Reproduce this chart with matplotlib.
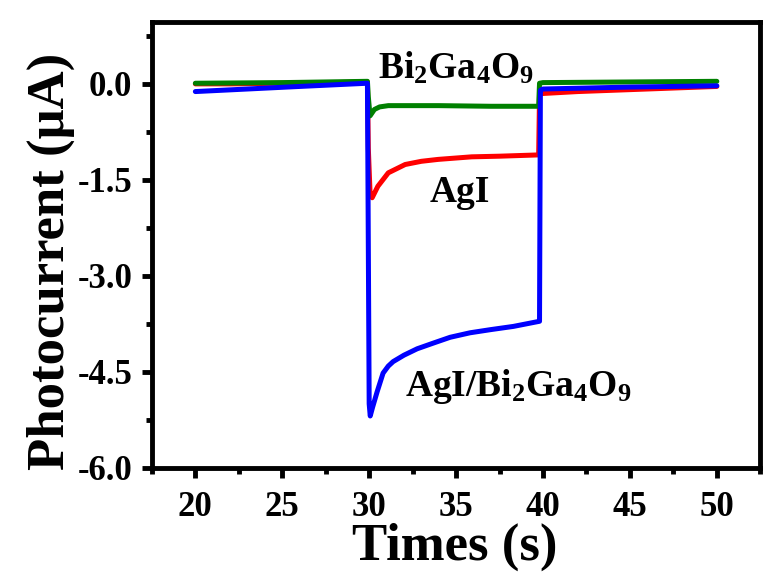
import matplotlib
matplotlib.use("Agg")
import matplotlib.pyplot as plt
from matplotlib.ticker import MultipleLocator

# ---- data (time in s, photocurrent in uA) ----
t_agi = [20, 22, 25, 28, 29.9, 29.95, 30.05, 30.17, 30.5, 31.1, 32.07, 33.0, 33.97,
         35.9, 37.5, 39.75, 39.8, 40.0, 42, 45, 48, 50]
i_agi = [0.0, 0.0, 0.01, 0.02, 0.03, -1.0, -1.7, -1.78, -1.60, -1.39, -1.26, -1.21, -1.18,
         -1.14, -1.13, -1.11, -0.16, -0.15, -0.12, -0.09, -0.06, -0.04]

t_bgo = [20, 25, 29.9, 29.95, 30.05, 30.3, 30.6, 31.1, 32.2, 34, 37, 39.75, 39.8,
         40.0, 45, 50]
i_bgo = [0.01, 0.02, 0.04, -0.2, -0.50, -0.40, -0.36, -0.34, -0.34, -0.34, -0.35, -0.35,
         0.01, 0.02, 0.03, 0.04]

t_comp = [20, 23, 26, 29.9, 29.95, 30.0, 30.06, 30.2, 30.46, 30.8, 31.1, 31.38, 32.0,
          32.76, 33.7, 34.66, 35.8, 37.0, 38.3, 39.8, 39.85, 40.0, 45, 50]
i_comp = [-0.12, -0.08, -0.04, 0.01, -2.5, -5.0, -5.19, -5.05, -4.81, -4.52, -4.41, -4.34,
          -4.24, -4.14, -4.05, -3.96, -3.89, -3.84, -3.79, -3.71, -0.1, -0.08, -0.05, -0.03]

plt.rcParams["font.family"] = ["Liberation Serif", "DejaVu Serif"]
plt.rcParams["font.weight"] = "bold"
plt.rcParams["mathtext.fontset"] = "custom"
plt.rcParams["mathtext.rm"] = "Liberation Serif:bold"
plt.rcParams["mathtext.it"] = "Liberation Serif:bold"
plt.rcParams["mathtext.bf"] = "Liberation Serif:bold"

fig = plt.figure(figsize=(7.75, 5.74), dpi=100)
ax = fig.add_axes([0.196, 0.185, 0.785, 0.777])

lw = 3.6
for t, v, c in [(t_agi, i_agi, "#ff0000"), (t_bgo, i_bgo, "#008000"), (t_comp, i_comp, "#0000ff")]:
    ax.plot(t, v, color=c, lw=lw, solid_joinstyle="round", solid_capstyle="round")

ax.text(35.0, 0.09, r"Bi$_\mathrm{2}$Ga$_\mathrm{4}$O$_\mathrm{9}$", ha="center",
        va="baseline", fontsize=27, fontweight="bold")
ax.text(35.2, -1.85, "AgI", ha="center", va="baseline", fontsize=27, fontweight="bold")
ax.text(38.6, -4.88, r"AgI/Bi$_\mathrm{2}$Ga$_\mathrm{4}$O$_\mathrm{9}$", ha="center",
        va="baseline", fontsize=27, fontweight="bold")

ax.set_xlim(17.5, 52.5)
ax.set_ylim(-6.0, 0.97)
ax.xaxis.set_major_locator(MultipleLocator(5))
ax.xaxis.set_minor_locator(MultipleLocator(2.5))
ax.yaxis.set_major_locator(MultipleLocator(1.5))
ax.yaxis.set_minor_locator(MultipleLocator(0.75))
ax.yaxis.set_major_formatter(plt.FormatStrFormatter("%.1f"))

for s in ax.spines.values():
    s.set_linewidth(3.5)
ax.tick_params(which="major", direction="out", length=7, width=3.5, labelsize=25, pad=7)
ax.tick_params(axis="x", which="major", pad=10)
ax.tick_params(which="minor", direction="out", length=4, width=3.5)
for lab in ax.get_xticklabels() + ax.get_yticklabels():
    lab.set_fontweight("bold")

ax.set_xlabel("Times (s)", fontsize=38, fontweight="bold")
ax.set_ylabel("Photocurrent (\u03bcA)", fontsize=38, fontweight="bold")
ax.xaxis.set_label_coords(0.497, -0.123)
ax.yaxis.set_label_coords(-0.126, 0.462)

fig.savefig("out.png", dpi=100)
